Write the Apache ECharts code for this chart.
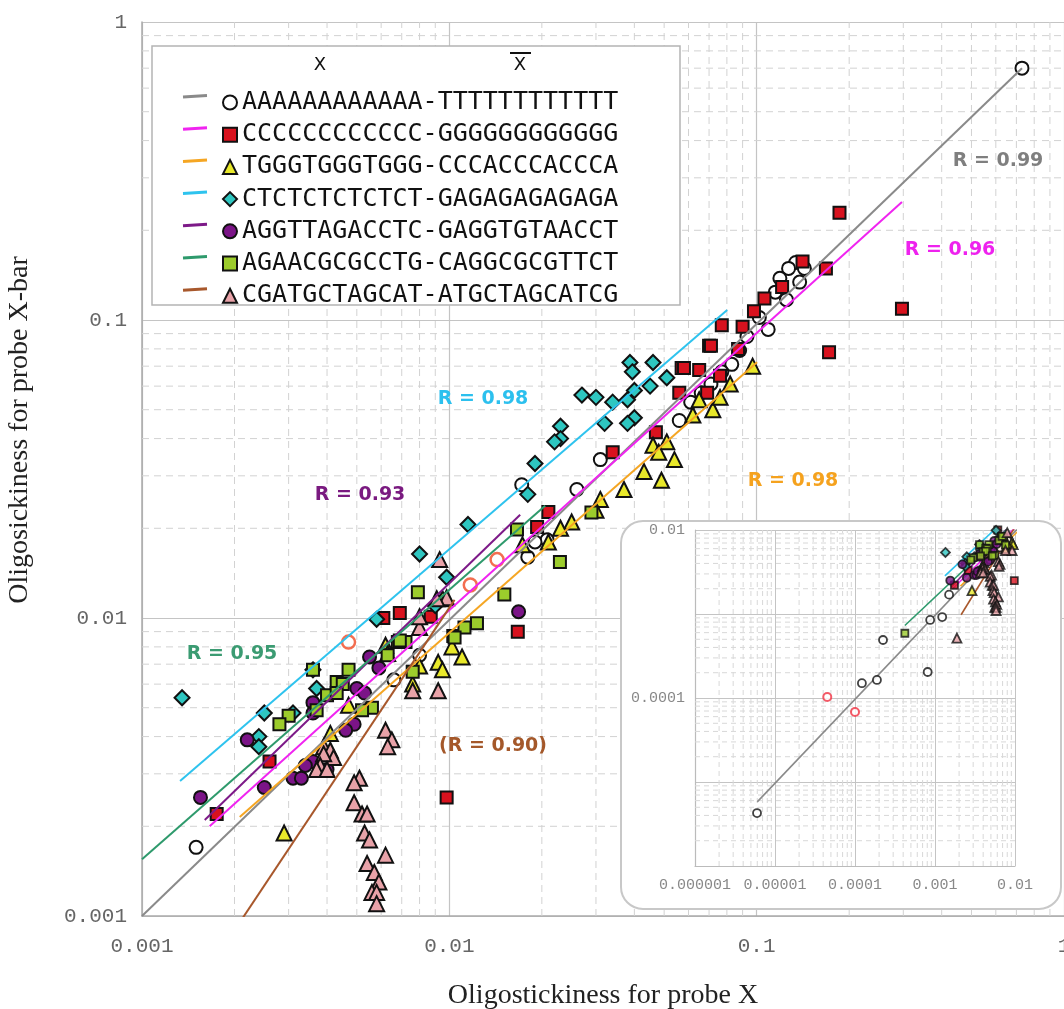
<!DOCTYPE html>
<html lang="en">
<head>
<meta charset="UTF-8">
<title>Oligostickiness</title>
<style>
    html, body { margin: 0; padding: 0; background: #fff; }
    #main { width: 1064px; height: 1009px; }
</style>
</head>
<body>
<div id="main"></div>
<script src="https://cdn.jsdelivr.net/npm/echarts@6/dist/echarts.min.js"></script>
<script type="text/javascript">
// probe pairs  X - Xbar
var probeNames = [
    'AAAAAAAAAAAA-TTTTTTTTTTTT',
    'CCCCCCCCCCCC-GGGGGGGGGGGG',
    'TGGGTGGGTGGG-CCCACCCACCCA',
    'CTCTCTCTCTCT-GAGAGAGAGAGA',
    'AGGTTAGACCTC-GAGGTGTAACCT',
    'AGAACGCGCCTG-CAGGCGCGTTCT',
    'CGATGCTAGCAT-ATGCTAGCATCG'
];

// [oligostickiness X, oligostickiness X-bar]
var ptsAT = [[0.73,0.70],[0.134,0.156],[0.127,0.149],[0.143,0.149],[0.119,0.138],[0.138,0.134],[0.115,0.124],
    [0.109,0.093],[0.125,0.117],[0.102,0.102],[0.093,0.088],[0.088,0.079],[0.083,0.071],[0.077,0.067],[0.071,0.061],
    [0.066,0.057],[0.061,0.053],[0.056,0.046],[0.031,0.034],[0.026,0.027],[0.0208,0.0183],[0.0172,0.028],
    [0.018,0.016],[0.019,0.018],[0.0080,0.0075],[0.0066,0.0062],[0.0015,0.0017]];
var ptsCG = [[0.186,0.229],[0.297,0.109],[0.172,0.078],[0.141,0.157],[0.168,0.149],[0.121,0.129],[0.106,0.118],
    [0.098,0.107],[0.090,0.095],[0.077,0.096],[0.070,0.082],[0.057,0.069],[0.065,0.068],[0.087,0.080],[0.071,0.082],
    [0.058,0.069],[0.056,0.057],[0.076,0.065],[0.069,0.057],[0.047,0.042],[0.034,0.036],[0.021,0.0227],
    [0.0193,0.0202],[0.0167,0.0090],[0.0098,0.0025],[0.0087,0.0101],[0.0069,0.0104],[0.0061,0.0100],
    [0.0026,0.0033],[0.00175,0.0022]];
var ptsTG = [[0.097,0.070],[0.082,0.061],[0.072,0.050],[0.062,0.048],[0.065,0.054],[0.076,0.055],[0.051,0.039],
    [0.054,0.034],[0.046,0.038],[0.048,0.036],[0.043,0.031],[0.049,0.029],[0.037,0.027],[0.031,0.025],[0.030,0.023],
    [0.025,0.021],[0.023,0.020],[0.021,0.018],[0.0173,0.0176],[0.0095,0.0116],[0.0102,0.0080],[0.0110,0.0074],
    [0.0092,0.0071],[0.0095,0.0067],[0.0076,0.0060],[0.0080,0.0069],[0.0062,0.0081],[0.0063,0.0076],
    [0.0029,0.0019],[0.0047,0.0051],[0.0041,0.0041]];
var ptsCT = [[0.0387,0.072],[0.0394,0.067],[0.046,0.072],[0.051,0.064],[0.045,0.060],[0.040,0.058],[0.038,0.054],
    [0.034,0.053],[0.030,0.055],[0.027,0.056],[0.040,0.047],[0.038,0.045],[0.032,0.045],[0.023,0.044],[0.023,0.040],
    [0.022,0.039],[0.019,0.033],[0.018,0.026],[0.0115,0.0206],[0.0080,0.0164],[0.0098,0.0137],[0.0090,0.0110],
    [0.0058,0.0099],[0.0037,0.0058],[0.0036,0.0067],[0.0025,0.0048],[0.0024,0.0040],[0.0024,0.0037],
    [0.0031,0.0048],[0.00135,0.0054]];
var ptsAG = [[0.00155,0.0025],[0.0025,0.0027],[0.0022,0.0039],[0.0036,0.0052],[0.0036,0.0048],[0.0055,0.0074],
    [0.0059,0.0068],[0.0049,0.0044],[0.0046,0.0042],[0.0031,0.0029],[0.0033,0.0029],[0.0036,0.0033],
    [0.0040,0.0031],[0.0034,0.0032],[0.0050,0.0058],[0.0053,0.0056],[0.0168,0.0105]];
var ptsGA = [[0.0036,0.0067],[0.0047,0.0067],[0.0043,0.0061],[0.0045,0.0060],[0.0040,0.0055],[0.0043,0.0056],
    [0.0037,0.0049],[0.0030,0.0047],[0.0028,0.0044],[0.0068,0.0083],[0.0072,0.0083],[0.0063,0.0075],
    [0.0103,0.0087],[0.0076,0.0066],[0.0056,0.0050],[0.0052,0.0049],[0.0079,0.0122],[0.0166,0.0198],
    [0.029,0.0226],[0.0229,0.0154],[0.0151,0.0120],[0.0123,0.0096],[0.0112,0.0093],[0.0104,0.0086],[0.0069,0.0084]];
var ptsCA = [[0.0062,0.0042],[0.0065,0.0039],[0.0063,0.0037],[0.0051,0.0029],[0.0049,0.0028],[0.0049,0.0024],
    [0.0052,0.0022],[0.0054,0.0022],[0.0053,0.0019],[0.0055,0.0018],[0.0062,0.0016],[0.0054,0.0015],
    [0.0057,0.0014],[0.0059,0.0013],[0.0056,0.0012],[0.0058,0.0012],[0.0058,0.0011],[0.0039,0.0037],
    [0.0041,0.0036],[0.0042,0.0034],[0.0039,0.0035],[0.0038,0.0032],[0.0037,0.0031],[0.0040,0.0031],
    [0.0092,0.0057],[0.0076,0.0057],[0.0080,0.0093],[0.0093,0.0157],[0.0098,0.0117],[0.0091,0.0116],[0.0080,0.0101]];
// points circled in red
var redRing = [[0.0047,0.0083],[0.0143,0.0157],[0.0117,0.0129]];

// regression lines (end points)
var fitAT = [[0.001,0.001],[0.73,0.70]];
var fitCG = [[0.00166,0.0020],[0.297,0.249]];
var fitTG = [[0.00208,0.00215],[0.1003,0.0721]];
var fitCT = [[0.00133,0.00284],[0.0802,0.1081]];
var fitAG = [[0.0016,0.0021],[0.017,0.0222]];
var fitGA = [[0.001,0.00155],[0.0205,0.0238]];
var fitCA = [[0.00212,0.00098],[0.0104,0.0115]];
var rTexts = ['R = 0.99', 'R = 0.96', 'R = 0.98', 'R = 0.98', 'R = 0.93', 'R = 0.95', '(R = 0.90)'];

// low values, only inside the inset
var insetAT = [[5.96e-6,4.27e-6],[1.22e-4,1.5e-4],[1.88e-4,1.64e-4],[2.24e-4,4.9e-4],[8.1e-4,2.04e-4],
    [8.7e-4,8.5e-4],[1.23e-3,9.2e-4]];
var insetGA = [[4.2e-4,5.9e-4]];
var insetCA = [[1.88e-3,5.17e-4]];
var insetRed = [[4.5e-5,1.03e-4],[1.0e-4,6.8e-5]];
var insetFitAT = [[6e-6,5.8e-6],[0.73,0.70]];
var insetFitGA = [[4.2e-4,7.3e-4],[0.0205,0.0238]];

var minorMult = [2, 3, 4, 5, 6, 7, 8, 9];

var lineColors = ['#8a8a8a', '#f024f0', '#f5a623', '#2ec3ee', '#7d1a88', '#2e9a6c', '#a8582c'];
var labelColors = ['#7f7f7f', '#ee22ee', '#f5a21e', '#2cc0ee', '#7a1a80', '#3b9b72', '#a4582a'];
var fillColors = ['#ffffff', '#d8121e', '#e8e82a', '#2ec6c0', '#7b1487', '#9ccc2c', '#e8a2a8'];
var symbols = ['circle', 'rect', 'triangle', 'diamond', 'circle', 'rect', 'triangle'];
var sizes = [13, 12, 15, 15, 13, 12, 15];
var rPos = [[998, 161], [950, 250], [793, 481], [483, 399], [360, 495], [232, 654], [493, 746]];

var myChart = echarts.init(document.getElementById('main'));

function decFmt(v) {
    var e = Math.round(Math.log10(v));
    return e >= 0 ? '1' : '0.' + new Array(-e).join('0') + '1';
}
function minorVals(lo, hi) {
    var out = [];
    for (var e = lo; e < hi; e++) {
        minorMult.forEach(function (m) { out.push(+(m * Math.pow(10, e)).toPrecision(3)); });
    }
    return out;
}
// dashed minor grid as one broken line: verticals then horizontals
function minorGrid(lo, hi) {
    var vals = minorVals(lo, hi), a = Math.pow(10, lo), b = Math.pow(10, hi), d = [];
    vals.forEach(function (v) { d.push([v, a], [v, b], ['-', '-']); });
    vals.forEach(function (v) { d.push([a, v], [b, v], ['-', '-']); });
    return d;
}

var pts = [ptsAT, ptsCG, ptsTG, ptsCT, ptsAG, ptsGA, ptsCA];
var fits = [fitAT, fitCG, fitTG, fitCT, fitAG, fitGA, fitCA];
var insetPts = [ptsAT.concat(insetAT), ptsCG, ptsTG, ptsCT, ptsAG, ptsGA.concat(insetGA), ptsCA.concat(insetCA)];
var insetFits = [insetFitAT, fitCG, fitTG, fitCT, fitAG, insetFitGA, fitCA];

var series = [
    { type: 'line', data: minorGrid(-3, 0), z: 1, silent: true, symbol: 'none', showSymbol: false,
      connectNulls: false, lineStyle: { color: '#d2d2d2', width: 1, type: [7, 5] } },
    { type: 'line', data: minorGrid(-6, -2), xAxisIndex: 1, yAxisIndex: 1, z: 11, silent: true, symbol: 'none',
      showSymbol: false, connectNulls: false, lineStyle: { color: '#d8d8d8', width: 1, type: [5, 4] } }
];
pts.forEach(function (d, i) {
    series.push({
        name: probeNames[i], type: 'scatter', data: d, symbol: symbols[i], symbolSize: sizes[i],
        itemStyle: { color: fillColors[i], borderColor: '#111', borderWidth: 2, opacity: 1 }
    });
});
series.push({
    type: 'scatter', data: redRing, symbol: 'circle', symbolSize: 13,
    itemStyle: { color: 'rgba(0,0,0,0)', borderColor: '#f04a24', borderWidth: 2.5 }
});
fits.forEach(function (d, i) {
    series.push({
        type: 'line', data: d, showSymbol: false, symbol: 'none',
        lineStyle: { color: lineColors[i], width: 2 }
    });
});
// inset
insetPts.forEach(function (d, i) {
    series.push({
        type: 'scatter', data: d, xAxisIndex: 1, yAxisIndex: 1, z: 12,
        symbol: symbols[i], symbolSize: Math.round(sizes[i] * 0.6),
        itemStyle: { color: fillColors[i], borderColor: '#111', borderWidth: 1.8 }
    });
});
series.push({
    type: 'scatter', data: insetRed, xAxisIndex: 1, yAxisIndex: 1, z: 12, symbol: 'circle', symbolSize: 8,
    itemStyle: { color: '#fff', borderColor: '#f03040', borderWidth: 2 }
});
insetFits.forEach(function (d, i) {
    series.push({
        type: 'line', data: d, xAxisIndex: 1, yAxisIndex: 1, z: 12, showSymbol: false, symbol: 'none',
        lineStyle: { color: lineColors[i], width: 1.6 }
    });
});

var graphics = [
    { type: 'rect', z: 10, shape: { x: 621, y: 521, width: 440, height: 388, r: 22 },
      style: { fill: '#fff', stroke: '#c8c8c8', lineWidth: 2 } },
    { type: 'rect', z: 20, shape: { x: 152, y: 46, width: 528, height: 259 },
      style: { fill: '#fff', stroke: '#b4b4b4', lineWidth: 1.5 } },
    { type: 'text', z: 21, x: 320, y: 65,
      style: { text: 'X', font: '18px "DejaVu Sans"', fill: '#111', textAlign: 'center', textVerticalAlign: 'middle' } },
    { type: 'text', z: 21, x: 520, y: 65,
      style: { text: 'X', font: '18px "DejaVu Sans"', fill: '#111', textAlign: 'center', textVerticalAlign: 'middle' } },
    { type: 'line', z: 21, shape: { x1: 510, y1: 53, x2: 531, y2: 53 }, style: { stroke: '#111', lineWidth: 2 } }
];
probeNames.forEach(function (n, i) {
    var y = 97 + i * 32.2;
    graphics.push({ type: 'line', z: 21, shape: { x1: 183, y1: y, x2: 207, y2: y - 1.5 },
        style: { stroke: lineColors[i], lineWidth: 3 } });
});
rTexts.forEach(function (t, i) {
    graphics.push({ type: 'text', z: 15, x: rPos[i][0], y: rPos[i][1],
        style: { text: t, font: 'bold 19px "DejaVu Sans"', fill: labelColors[i],
                 textAlign: 'center', textVerticalAlign: 'middle' } });
});

var option = {
    animation: false,
    backgroundColor: '#fff',
    grid: [
        { left: 142, right: 0, top: 22, bottom: 93, containLabel: false, outerBoundsMode: 'none' },
        { left: 695, top: 530, width: 320, height: 336, containLabel: false, outerBoundsMode: 'none' }
    ],
    legend: {
        data: probeNames, orient: 'vertical', left: 217, top: 85, z: 21,
        itemWidth: 14, itemHeight: 14, itemGap: 7.2, selectedMode: false,
        textStyle: { fontFamily: 'DejaVu Sans Mono', fontSize: 25, lineHeight: 25, color: '#111' }
    },
    xAxis: [{
        type: 'log', logBase: 10, min: 0.001, max: 1, gridIndex: 0,
        axisLine: { show: true, lineStyle: { color: '#aaa', width: 1.5 } },
        axisTick: { show: false },
        splitLine: { show: true, lineStyle: { color: '#c4c4c4', width: 1.2 } },
        axisLabel: { formatter: decFmt, fontFamily: 'Liberation Mono', fontSize: 21, color: '#666', margin: 20 },
        name: 'Oligostickiness for probe X', nameLocation: 'middle', nameGap: 66,
        nameTextStyle: { fontFamily: 'Liberation Serif', fontSize: 28, color: '#222' }
    }, {
        type: 'log', logBase: 10, min: 1e-6, max: 0.01, gridIndex: 1, z: 11,
        axisLine: { show: true, lineStyle: { color: '#bbb', width: 1.2 } },
        axisTick: { show: false },
        splitLine: { show: true, lineStyle: { color: '#c4c4c4', width: 1 } },
        axisLabel: { formatter: decFmt, fontFamily: 'Liberation Mono', fontSize: 15, color: '#888', margin: 12 }
    }],
    yAxis: [{
        type: 'log', logBase: 10, min: 0.001, max: 1, gridIndex: 0,
        axisLine: { show: true, lineStyle: { color: '#aaa', width: 1.5 } },
        axisTick: { show: false },
        splitLine: { show: true, lineStyle: { color: '#c4c4c4', width: 1.2 } },
        axisLabel: { formatter: decFmt, fontFamily: 'Liberation Mono', fontSize: 21, color: '#666', margin: 15 },
        name: 'Oligosickiness for probe X-bar', nameLocation: 'middle', nameGap: 108,
        nameTextStyle: { fontFamily: 'Liberation Serif', fontSize: 28, color: '#222', padding: [0, 0, 0, 78] }
    }, {
        type: 'log', logBase: 10, min: 1e-6, max: 0.01, gridIndex: 1, z: 11,
        axisLine: { show: true, lineStyle: { color: '#bbb', width: 1.2 } },
        axisTick: { show: false },
        splitLine: { show: true, lineStyle: { color: '#c4c4c4', width: 1 } },
        axisLabel: {
            fontFamily: 'Liberation Mono', fontSize: 15, color: '#888', margin: 10,
            formatter: function (v) {
                var e = Math.round(Math.log10(v));
                return (e === -2 || e === -4) ? decFmt(v) : '';
            }
        }
    }],
    graphic: graphics,
    series: series
};
myChart.setOption(option);
</script>
</body>
</html>
